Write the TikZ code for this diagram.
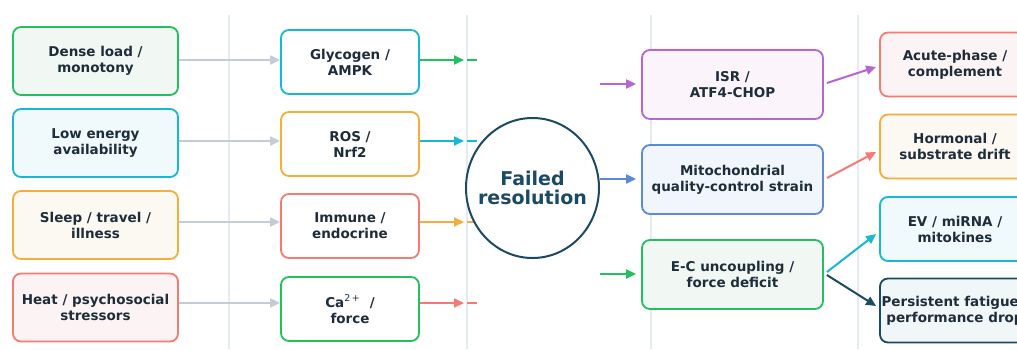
\documentclass[tikz,border=0pt]{standalone}
\usepackage{fontspec}
\setmainfont{DejaVu Sans}
\newfontfamily\supfont{DejaVu Sans}
\usetikzlibrary{arrows.meta,calc,shapes.geometric}

\definecolor{ink}{HTML}{1E2D3B}
\definecolor{navy}{HTML}{1B4A64}
\definecolor{cG}{HTML}{22C05E}
\definecolor{fG}{HTML}{F1F8F3}
\definecolor{cC}{HTML}{17B8D0}
\definecolor{fC}{HTML}{F0F9FB}
\definecolor{cO}{HTML}{F5AD3B}
\definecolor{fO}{HTML}{FBF9F1}
\definecolor{cR}{HTML}{F47A72}
\definecolor{fR}{HTML}{FCF4F4}
\definecolor{cP}{HTML}{B864D4}
\definecolor{fP}{HTML}{FBF5FB}
\definecolor{cB}{HTML}{5A8AD8}
\definecolor{fB}{HTML}{F1F6FD}
\definecolor{fN}{HTML}{F1F6F8}
\definecolor{grayarrow}{HTML}{C1CDD8}
\definecolor{sep}{HTML}{E4ECF2}

\begin{document}
\begin{tikzpicture}[x=1pt,y=-1pt,
  box/.style={line width=1.8pt, rounded corners=8pt, align=center, inner sep=0pt,
    text=ink, font=\bfseries\fontsize{13.5}{16}\selectfont},
  srcbox/.style={box, minimum width=165pt, minimum height=68pt},
  midbox/.style={box, minimum width=138pt, minimum height=64pt, fill=white},
  mechbox/.style={box, minimum width=181pt, minimum height=69pt},
  outbox/.style={box, minimum width=150pt, minimum height=64pt},
  arr/.style={line width=2pt, -{Triangle[length=10pt,width=9pt]}},
  feed/.style={arr, grayarrow},
  stub/.style={line width=2pt},
  divider/.style={sep, line width=1.4pt}]

\useasboundingbox (0,0) rectangle (1017,349);
\fill[white] (0,0) rectangle (1017,349);
\clip (0,0) rectangle (1017,349);

% column dividers
\foreach \x in {229,467,651,858} \draw[divider] (\x,15) -- (\x,349);

% arrow rows on the left
\coordinate (r1) at (0,60);
\coordinate (r2) at (0,141);
\coordinate (r3) at (0,222);
\coordinate (r4) at (0,303);

% sources
\node[srcbox, draw=cG, fill=fG] (s1) at (95.5,61)    {Dense load /\\monotony};
\node[srcbox, draw=cC, fill=fC] (s2) at (95.5,143)   {Low energy\\availability};
\node[srcbox, draw=cO, fill=fO] (s3) at (95.5,225)   {Sleep / travel /\\illness};
\node[srcbox, draw=cR, fill=fR] (s4) at (95.5,307.5) {Heat / psychosocial\\stressors};

% intermediate pathways
\node[midbox, draw=cC] (m1) at (350,62)  {Glycogen /\\AMPK};
\node[midbox, draw=cO] (m2) at (350,144) {ROS /\\Nrf2};
\node[midbox, draw=cR] (m3) at (350,226) {Immune /\\endocrine};
\node[midbox, draw=cG] (m4) at (350,309) {Ca\textsuperscript{\supfont\mdseries 2\,+}~~/\\force};

\draw[feed] (s1.east |- r1) -- (m1.west |- r1);
\draw[feed] (s2.east |- r2) -- (m2.west |- r2);
\draw[feed] (s3.east |- r3) -- (m3.west |- r3);
\draw[feed] (s4.east |- r4) -- (m4.west |- r4);

% arrows running into the hub column
\foreach \n/\y in {1/60,2/141,3/222,4/303}{
  \coordinate (t\n) at (464,\y);
  \coordinate (u\n) at (467,\y);
  \coordinate (v\n) at (477,\y);
}
\draw[arr, cG] (m1.east |- r1) -- (t1);
\draw[arr, cC] (m2.east |- r2) -- (t2);
\draw[arr, cO] (m3.east |- r3) -- (t3);
\draw[arr, cR] (m4.east |- r4) -- (t4);
\draw[stub, cG] (u1) -- (v1);
\draw[stub, cC] (u2) -- (v2);
\draw[stub, cO] (u3) -- (v3);
\draw[stub, cR] (u4) -- (v4);

% hub
\node[ellipse, draw=navy, line width=2pt, fill=white, minimum width=133pt,
  minimum height=140pt, inner xsep=-12pt, inner ysep=0pt, align=center, text=navy,
  font=\bfseries\fontsize{19}{19.5}\selectfont] (hub) at (532.5,188) {Failed\\resolution};

% mechanisms
\node[mechbox, draw=cP, fill=fP] (k1) at (732.5,84.5)  {ISR /\\ATF4-CHOP};
\node[mechbox, draw=cB, fill=fB] (k2) at (732.5,179.5) {Mitochondrial\\quality-control strain};
\node[mechbox, draw=cG, fill=fG] (k3) at (732.5,274.5) {E-C uncoupling /\\force deficit};

\coordinate (i1) at (600,84);
\coordinate (i2) at (600,179);
\coordinate (i3) at (600,274);
\draw[arr, cP] (i1) -- ([xshift=-5pt]k1.west |- i1);
\draw[arr, cB] (i2) -- ([xshift=-5pt]k2.west |- i2);
\draw[arr, cG] (i3) -- ([xshift=-5pt]k3.west |- i3);

% outcomes
\node[outbox, draw=cR, fill=fR]   (o1) at (955,64.5)  {Acute-phase /\\complement};
\node[outbox, draw=cO, fill=fO]   (o2) at (955,146.5) {Hormonal /\\substrate drift};
\node[outbox, draw=cC, fill=fC]   (o3) at (955,229)   {EV / miRNA /\\mitokines};
\node[outbox, draw=navy, fill=fN] (o4) at (955,310.5) {Persistent fatigue /\\performance drop};

\draw[arr, cP]   ($(k1.east)+(3,-1.5)$) -- ($(o1.west)+(-3,2.5)$);
\draw[arr, cR]   ($(k2.east)+(3,-1.5)$) -- ($(o2.west)+(-3,5.5)$);
\draw[arr, cC]   ($(k3.east)+(3,-2.5)$) -- ($(o3.west)+(-3,5)$);
\draw[arr, navy] ($(k3.east)+(3,0.5)$)  -- ($(o4.west)+(-3,-4.5)$);

\end{tikzpicture}
\end{document}
